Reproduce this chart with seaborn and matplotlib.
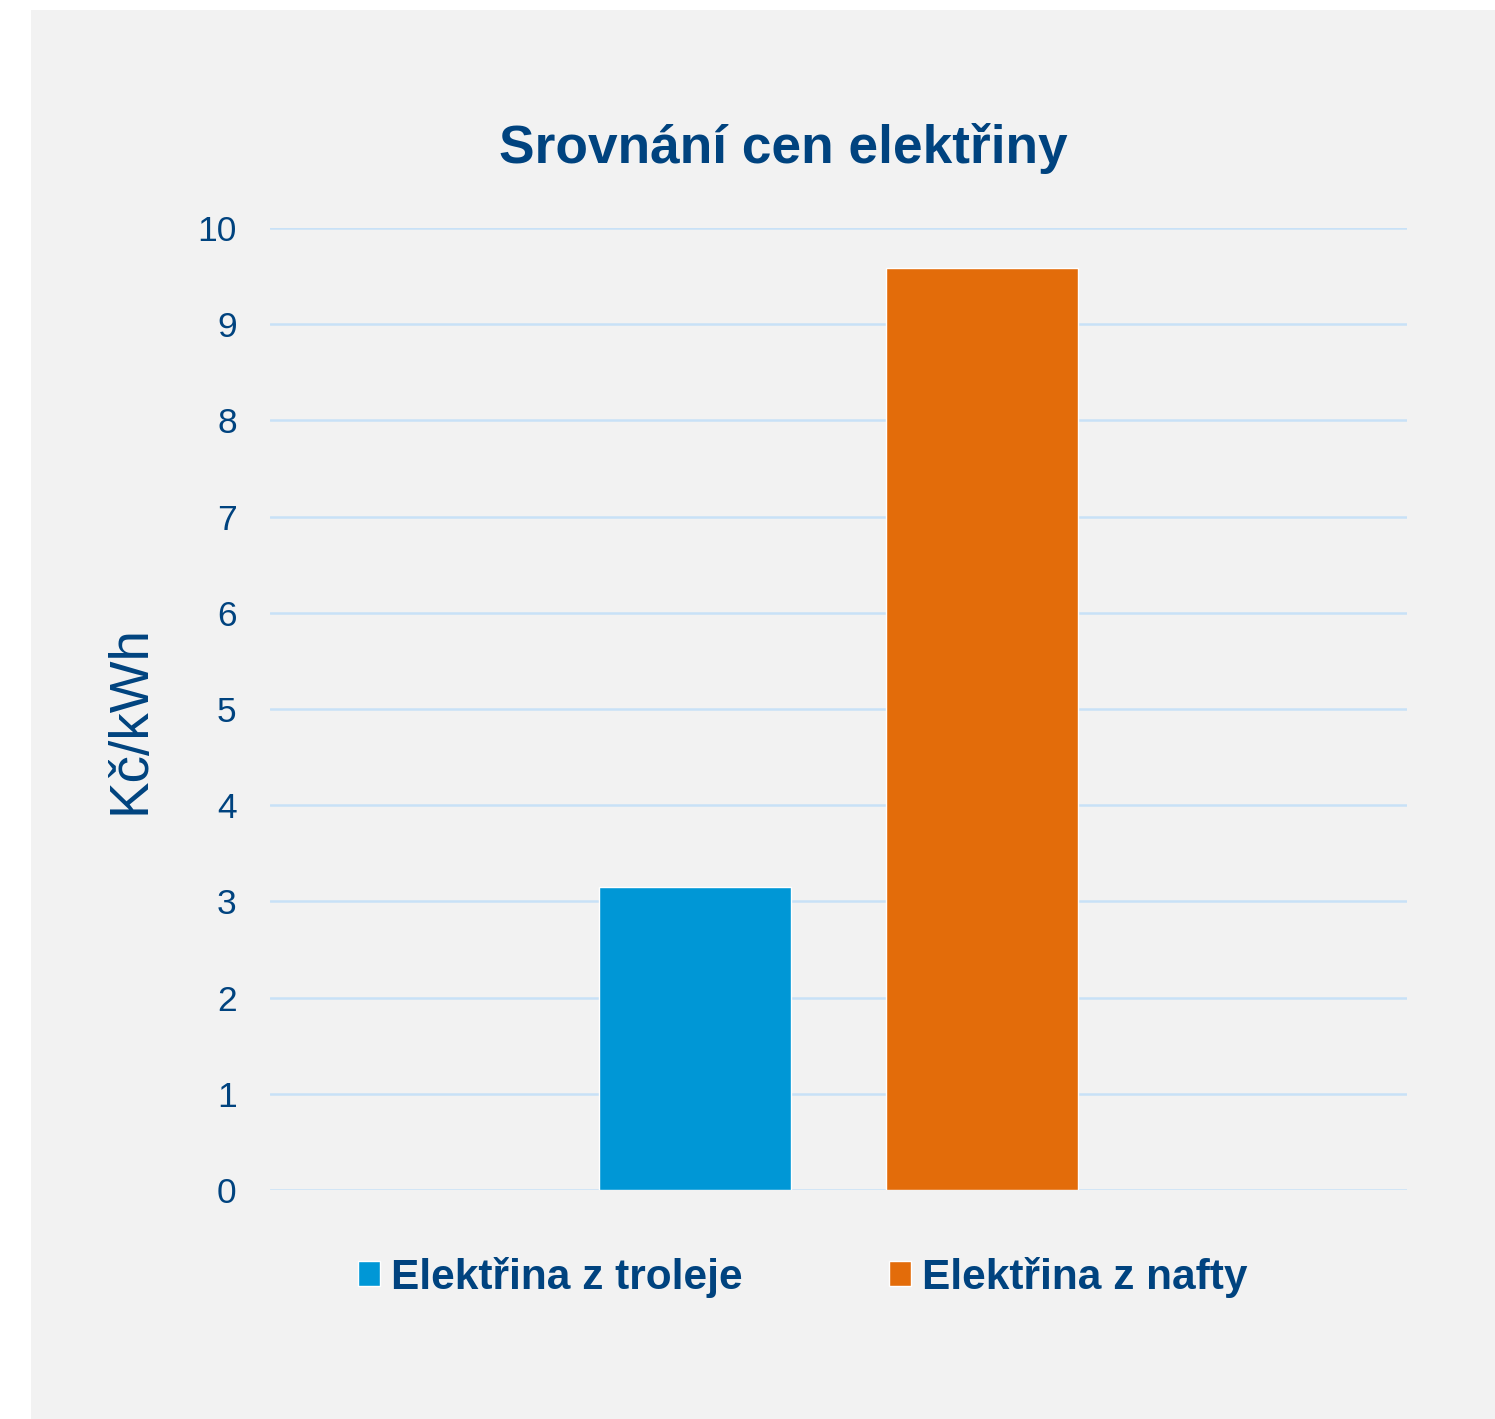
import matplotlib
matplotlib.use("Agg")
import matplotlib.pyplot as plt
import seaborn as sns
import pandas as pd
from matplotlib.patches import Rectangle

# Data
categories = ["Cena"]
series = ["Elektřina z troleje", "Elektřina z nafty"]
values = [3.15, 9.58]
colors = ["#0097D6", "#E36C0A"]
yticks = [0, 1, 2, 3, 4, 5, 6, 7, 8, 9, 10]
title = "Srovnání cen elektřiny"
ylabel = "Kč/kWh"

df = pd.DataFrame({"cat": categories * len(series), "series": series, "value": values})

sns.set_theme(style="white")
plt.rcParams["font.family"] = ["Liberation Sans", "DejaVu Sans"]

TXT = "#00437F"
BG = "#F2F2F2"
W, H = 1495, 1419
fig = plt.figure(figsize=(W / 100, H / 100), dpi=100)
fig.patch.set_facecolor("white")
fig.patches.append(Rectangle((31 / W, 0), 1 - 31 / W, 1 - 10 / H, transform=fig.transFigure,
                             facecolor=BG, edgecolor="none", zorder=-10))

ax = fig.add_axes([270 / W, 1 - 1190 / H, (1407 - 270) / W, (1190 - 228) / H])
ax.set_facecolor(BG)
ax.patch.set_alpha(0)

sns.barplot(data=df, x="cat", y="value", hue="series", hue_order=series,
            palette=colors, width=0.506, gap=0.333, saturation=1, ax=ax)

handles, labels = ax.get_legend_handles_labels()
if ax.get_legend() is not None:
    ax.get_legend().remove()

ax.set_xlim(-0.5, 0.5)
ax.set_ylim(0, 10)
ax.set_yticks(yticks)
ax.set_yticklabels([str(t) for t in yticks], fontsize=25.5, color=TXT)
ax.set_xticks([])
ax.set_xlabel("")
ax.set_ylabel("")
ax.tick_params(axis="y", length=0, pad=24)
ax.grid(axis="y", color="#C8E1F7", linewidth=1.8)
ax.set_axisbelow(True)
for s in ax.spines.values():
    s.set_visible(False)

fig.text(130 / W, 1 - 720 / H, ylabel, rotation=90, ha="center", va="center",
         fontsize=39.5, color=TXT)
fig.text(783 / W, 1 - 148 / H, title, ha="center", va="center",
         fontsize=38.3, fontweight="bold", color=TXT)

leg = fig.legend(handles, labels, loc="center", bbox_to_anchor=(803 / W, 1 - 1277 / H),
                 ncol=2, frameon=False, handlelength=0.52, handleheight=0.52,
                 handletextpad=0.26, columnspacing=3.45,
                 prop={"size": 30.5, "weight": "bold"})
for t in leg.get_texts():
    t.set_color(TXT)

fig.savefig("out.png", dpi=100, facecolor="white")
